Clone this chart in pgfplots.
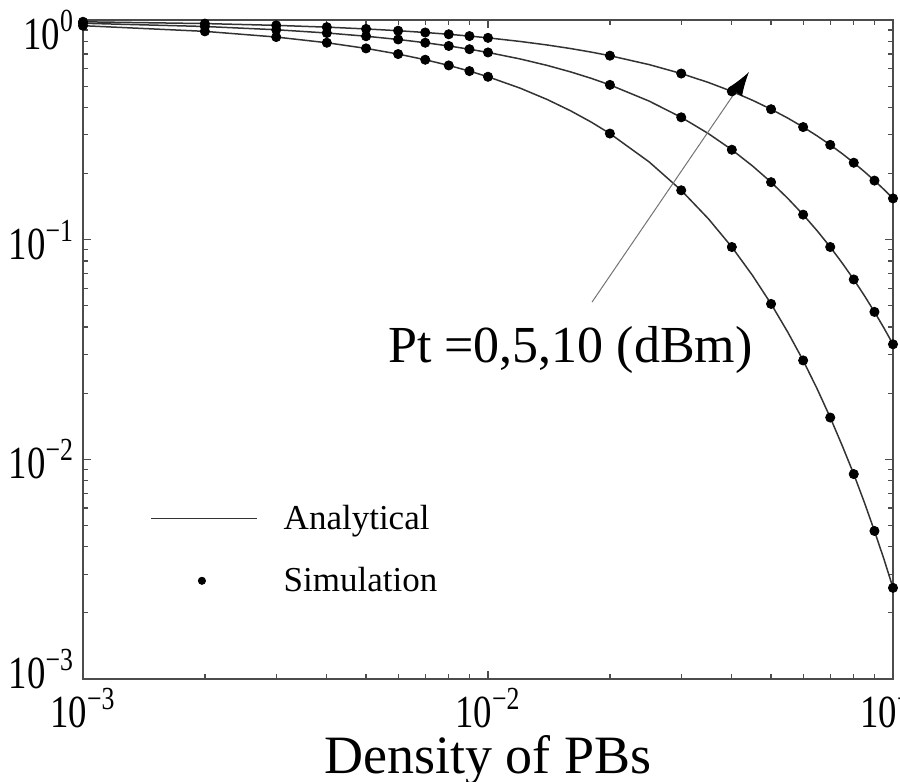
\documentclass[border=0pt]{standalone}
\usepackage{pgfplots}
\pgfplotsset{compat=1.18}
\usepackage{pgfplotstable}
\usepackage{fontspec}
\setmainfont{Liberation Serif}
\newfontfamily\tickfont[FakeStretch=0.8]{Liberation Serif}
\usetikzlibrary{arrows.meta}

% analytical curves, Pt = 0, 5, 10 dBm
\pgfplotstableread{
x      a       b       c
0.001  0.9815  0.9666  0.9422
0.002  0.9633  0.9343  0.8878
0.003  0.9454  0.9030  0.8365
0.004  0.9279  0.8728  0.7882
0.005  0.9107  0.8437  0.7427
0.006  0.8939  0.8155  0.6998
0.007  0.8773  0.7882  0.6594
0.008  0.8611  0.7619  0.6213
0.009  0.8451  0.7364  0.5854
0.010  0.8294  0.7118  0.5516
0.012  0.7990  0.6650  0.4897
0.014  0.7697  0.6213  0.4347
0.016  0.7414  0.5804  0.3860
0.018  0.7142  0.5423  0.3427
0.020  0.6880  0.5066  0.3042
0.025  0.6266  0.4274  0.2259
0.030  0.5706  0.3606  0.1678
0.035  0.5197  0.3042  0.1246
0.040  0.4733  0.2567  0.0926
0.045  0.4311  0.2165  0.0687
0.050  0.3926  0.1827  0.0510
0.055  0.3575  0.1541  0.0379
0.060  0.3256  0.1300  0.0282
0.065  0.2966  0.1097  0.0209
0.070  0.2701  0.0926  0.0155
0.075  0.2460  0.0781  0.0115
0.080  0.2240  0.0659  0.00857
0.085  0.2040  0.0556  0.00636
0.090  0.1858  0.0469  0.00472
0.095  0.1692  0.0396  0.00351
0.100  0.1541  0.0334  0.00260
}\analytic

% simulation points
\pgfplotstableread{
x      a       b       c
0.001  0.9815  0.9666  0.9422
0.002  0.9633  0.9343  0.8878
0.003  0.9454  0.9030  0.8365
0.004  0.9279  0.8728  0.7882
0.005  0.9107  0.8437  0.7427
0.006  0.8939  0.8155  0.6998
0.007  0.8773  0.7882  0.6594
0.008  0.8611  0.7619  0.6213
0.009  0.8451  0.7364  0.5854
0.010  0.8294  0.7118  0.5516
0.020  0.6880  0.5066  0.3042
0.030  0.5706  0.3606  0.1678
0.040  0.4733  0.2567  0.0926
0.050  0.3926  0.1827  0.0510
0.060  0.3256  0.1300  0.0282
0.070  0.2701  0.0926  0.0155
0.080  0.2240  0.0659  0.00857
0.090  0.1858  0.0469  0.00472
0.100  0.1541  0.0334  0.00260
}\simul

\begin{document}
\begin{tikzpicture}
\begin{axis}[
    at={(0,0)}, anchor=south west,
    scale only axis,
    width=405pt, height=329.5pt,
    xmode=log, ymode=log,
    xmin=0.001, xmax=0.1,
    ymin=0.001, ymax=1,
    axis line style={draw=black!70, line width=0.7pt},
    every tick/.style={black!70, line width=0.6pt},
    tick align=inside,
    major tick length=4pt,
    minor tick length=2.5pt,
    xtick={0.001,0.01,0.1},
    xticklabels={10\textsuperscript{−3},10\textsuperscript{−2},10\textsuperscript{−1}},
    ytick={0.001,0.01,0.1,1},
    yticklabels={\raisebox{5pt}[\height][\depth]{10\textsuperscript{−3}},10\textsuperscript{−2},10\textsuperscript{−1},\raisebox{-5pt}[\height][\depth]{10\textsuperscript{0}}},
    ticklabel style={font=\tickfont\fontsize{23}{26}\selectfont},
    xticklabel style={yshift=-1pt},
    yticklabel style={xshift=-1pt},
    xlabel={Density of PBs},
    xlabel style={font=\fontsize{27}{30}\selectfont, at={(axis description cs:0.5,0)}, anchor=base, yshift=-47pt},
    legend style={draw=none, fill=none, font=\fontsize{17.5}{20}\selectfont,
        at={(rel axis cs:0.075,0.277)}, anchor=north west, row sep=13.5pt},
    legend cell align=left,
    /tikz/every odd column/.append style={column sep=11pt},
]
\addplot[black!80, line width=0.75pt,
    legend image code/.code={\draw[black!80, line width=0.8pt] (0pt,0pt) -- (53pt,0pt);}]
    table[x=x, y=a] {\analytic};
\addlegendentry{Analytical}
\addplot[only marks, mark=*, mark size=2.3pt, black,
    legend image code/.code={\path[draw=none, fill=none] (0pt,0pt) -- (53pt,0pt); \fill[black] (25.5pt,0pt) circle (1.8pt);}]
    table[x=x, y=a] {\simul};
\addlegendentry{Simulation}
\addplot[black!80, line width=0.75pt, forget plot] table[x=x, y=b] {\analytic};
\addplot[black!80, line width=0.75pt, forget plot] table[x=x, y=c] {\analytic};
\addplot[only marks, mark=*, mark size=2.3pt, black, forget plot] table[x=x, y=b] {\simul};
\addplot[only marks, mark=*, mark size=2.3pt, black, forget plot] table[x=x, y=c] {\simul};

\draw[black!55, line width=0.5pt, -{Latex[length=12pt, width=8pt, color=black]}]
    (axis cs:0.01807,0.052) -- (axis cs:0.0441,0.58);
\node[anchor=base west, inner sep=0pt, font=\fontsize{26}{29}\selectfont]
    at (axis cs:0.00566,0.0275) {Pt =0,5,10 (dBm)};
\end{axis}
\pgfresetboundingbox
\path[use as bounding box] (-41.5pt,-51.5pt) rectangle (408.5pt,339.5pt);
\end{tikzpicture}
\end{document}
